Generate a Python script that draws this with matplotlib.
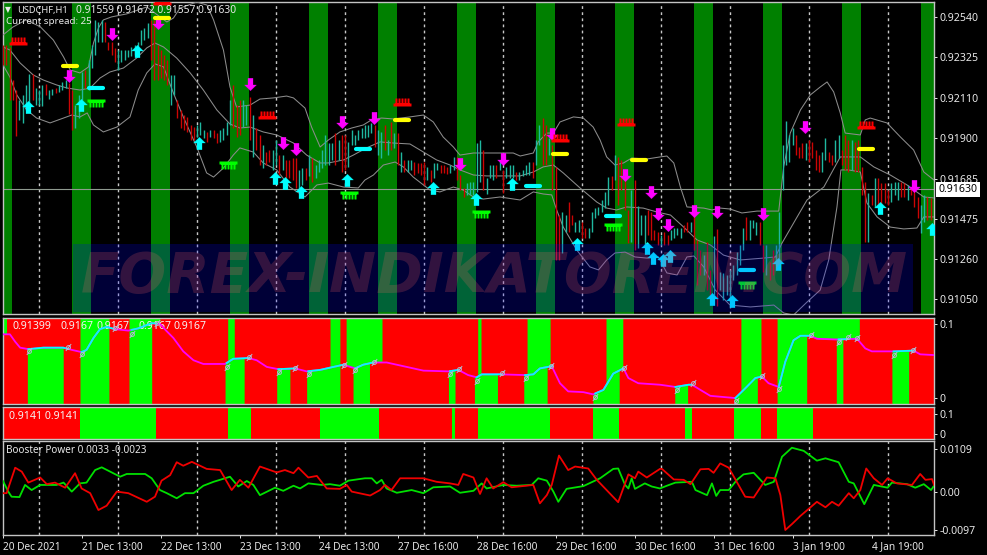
import numpy as np
import matplotlib
matplotlib.use("Agg")
import matplotlib.pyplot as plt
from matplotlib.path import Path
from matplotlib.markers import MarkerStyle
from matplotlib.patches import Rectangle

plt.rcParams['font.family'] = ['Noto Sans', 'DejaVu Sans']

W, H = 987, 555
N_BARS = 283
FS = 7.6
FS_TEXT = 7.0

# ---------- prices, in 1e-5 units ----------
highs = [92391,92391,92380,92204,92151,92098,92125,92178,92236,92236,
92162,92151,92178,92183,92151,92157,92162,92178,92194,92204,
92188,92151,92071,92125,92247,92258,92311,92391,92524,92513,
92524,92513,92407,92407,92375,92364,92364,92364,92364,92380,
92391,92407,92470,92481,92508,92524,92524,92391,92364,92337,
92311,92231,92231,92098,92045,92018,92008,91965,91954,91965,
91981,91938,91928,91938,91938,91922,91938,91949,91981,92098,
92178,92071,92098,92098,92071,92114,92018,91949,91912,91859,
91821,91832,91832,91885,91805,91805,91779,91779,91789,91789,
91726,91736,91736,91805,91789,91752,91779,91832,91912,91869,
91869,91922,91885,91912,91912,91875,91938,91912,91938,91949,
91965,91965,91976,91965,91938,91928,91965,91885,91981,91922,
91922,91821,91779,91779,91779,91768,91763,91763,91768,91742,
91726,91763,91763,91752,91752,91742,91752,91795,91795,91699,
91630,91656,91662,91662,91869,91885,91832,91683,91752,91752,
91752,91779,91726,91742,91752,91752,91715,91715,91726,91752,
91768,91768,91885,91965,92002,91965,91896,91859,91742,91486,
91502,91486,91555,91486,91449,91460,91449,91417,91417,91502,
91523,91529,91566,91609,91688,91694,91805,91795,91779,91672,
91513,91619,91672,91534,91486,91486,91513,91502,91406,91396,
91380,91396,91380,91406,91417,91417,91417,91433,91449,91449,
91486,91353,91300,91273,91343,91194,91374,91412,91183,91178,
91167,91194,91220,91289,91327,91417,91476,91460,91460,91449,
91449,91327,91327,91236,91300,91327,91502,91859,91986,91912,
91949,91912,91848,91869,91869,91885,91875,91832,91805,91821,
91896,91821,91805,91885,91912,91832,91912,91885,91885,91875,
91885,91742,91662,91603,91593,91683,91683,91656,91656,91619,
91656,91662,91662,91662,91656,91646,91635,91619,91582,91539,
91593,91582,91577]
lows = [92284,92284,92098,92098,91906,91992,91976,92045,92034,92098,
92071,92071,92066,92125,92103,92125,92135,92141,92151,92162,
92024,91938,91949,92002,92098,92162,92151,92268,92337,92407,
92407,92407,92364,92337,92300,92258,92300,92311,92327,92332,
92337,92353,92391,92417,92428,92311,92204,92204,92215,92204,
92178,92071,92125,92002,91949,91938,91928,91885,91885,91901,
91912,91896,91875,91901,91896,91869,91875,91885,91912,91965,
91949,91901,91912,91954,91965,91885,91795,91832,91752,91736,
91752,91768,91726,91752,91699,91726,91683,91683,91672,91630,
91619,91646,91672,91694,91662,91683,91715,91736,91752,91752,
91779,91752,91779,91715,91726,91742,91859,91859,91885,91896,
91896,91901,91922,91848,91805,91789,91832,91805,91832,91843,
91752,91715,91715,91715,91726,91699,91710,91699,91646,91672,
91662,91683,91726,91710,91710,91704,91710,91726,91672,91619,
91582,91593,91593,91593,91609,91662,91619,91598,91683,91672,
91683,91726,91603,91683,91683,91683,91672,91672,91694,91699,
91699,91683,91752,91859,91752,91752,91805,91619,91247,91247,
91284,91396,91396,91433,91396,91396,91364,91364,91364,91396,
91470,91486,91502,91523,91539,91619,91672,91539,91619,91513,
91337,91343,91300,91311,91380,91327,91380,91353,91353,91327,
91327,91327,91327,91353,91364,91380,91364,91396,91396,91396,
91300,91114,91167,91167,91087,91061,91061,91002,91087,91034,
91061,91034,91140,91167,91220,91300,91353,91353,91417,91380,
91327,91183,91167,91140,91167,91220,91247,91619,91752,91768,
91859,91805,91789,91789,91779,91768,91789,91726,91715,91715,
91779,91768,91752,91768,91789,91752,91726,91715,91726,91715,
91715,91593,91343,91343,91539,91529,91539,91539,91550,91539,
91555,91593,91566,91582,91582,91566,91593,91529,91470,91390,
91449,91460,91460]
directions = ("dddddttttd" "tttdttdttt" "ddtttdtttt" "tddddttttt" "tttttddddd"
 "dttddddddt" "ttdtddtttt" "dddttdtddt" "ddttdtdddd" "ttdtdttttt"
 "tdtddttttt" "tttdttdtdt" "dtdttddddt" "dttdddttdd" "dtttttdttt"
 "dtdtttdttt" "tdttddtddd" "ttddttddtt" "tttttdtddd" "dtdtttdddd"
 "tddttttddt" "dddtddtdtt" "ttttttdttt" "ddtddttttt" "tdddtddddt"
 "tddttdddtd" "dddtdtdddd" "tttddtdddt" "tdd")

# ---------- Bollinger bands ----------
upper_bars = [0,3,7,11.3,15.3,18.4,20.4,23.4,26,27.5,29,30.5,33,37.6,43.7,49.8,51.8,53.8,58.9,62,64,67,69,71,75.1,78.1,82.2,86.2,88.3,91.8,93.8,96.4,98.9,102.4,106,109.5,112,115.1,118.7,123.7,127.8,130.8,133.8,136.9,138.9,143,148,155.1,157.2,161.2,162.7,165.3,167.3,169.3,173.4,176.4,179.4,181.5,183.5,186,188.6,191.1,195.7,199.7,201.8,203.9,205.9,207.9,213,215.5,218,221,224.6,229.2,235.8,237.3,239.3,242.4,245.4,248.4,250.5,252.5,254.5,256,260.6,262.1,263.6,268.7,272.8,276.8,279.9,283]
upper_vals = [92444,92486,92524,92488,92417,92327,92258,92242,92274,92401,92481,92524,92540,92556,92593,92513,92534,92587,92619,92603,92524,92364,92167,92061,92071,92103,92109,92119,92109,92055,91954,91848,91885,91928,91949,91965,91992,92002,91997,92008,92018,91981,91901,91848,91805,91816,91816,91816,91800,91816,91875,91922,91922,91981,92008,92002,91954,91885,91795,91752,91763,91789,91784,91795,91800,91763,91635,91529,91523,91513,91523,91518,91497,91507,91507,91742,91922,92045,92125,92167,92194,92141,92029,91922,91912,91992,92002,91976,91901,91832,91715,91672]
middle_bars = [0,2.1,5.2,9.2,12.3,16.3,19.4,23.4,26.5,29.5,32.5,36.6,40.6,43.7,46.2,48.8,52.8,56.9,60.9,65,69,72,75.1,79.1,83.2,88.3,92.3,96.4,98.9,103.5,106.5,110.5,114.6,118.7,123.7,127.8,131.8,135.9,138.9,143,147,152.1,157.2,161.2,164.2,167.3,170.3,175.4,180.5,183.5,186.5,189.6,194.6,198.8,202.9,206.9,211,215,219,224.1,231.2,234.8,236.8,241.4,244.4,249.5,254.5,260.6,264.7,269.7,274.8,279.9,283]
middle_vals = [92380,92364,92295,92231,92204,92178,92162,92151,92162,92215,92247,92268,92321,92375,92401,92380,92321,92242,92151,92045,91970,91949,91954,91928,91912,91869,91805,91763,91763,91779,91805,91843,91875,91869,91864,91821,91779,91752,91726,91699,91694,91694,91694,91715,91742,91752,91710,91630,91555,91523,91513,91529,91523,91502,91486,91422,91353,91327,91273,91247,91257,91263,91337,91476,91566,91635,91795,91795,91742,91699,91646,91582,91577]
lower_bars = [0,2.1,4.2,7.2,10.2,14.3,18.4,20.9,23.4,25.6,27.5,30.5,34.6,38.6,41.1,43.7,46.2,48.8,51.8,54.8,58.9,61.9,64,67,70,72,76.1,79.1,83.2,87.2,91.8,95.4,98.9,103.5,108,110,112.6,115.6,119.2,121.7,124.7,129.8,132.8,136.9,139.9,143,146,151.1,157.2,161.2,164.2,166.8,168.3,170.3,174.4,178.4,181,183.5,186,189.1,192.1,195.7,199.2,201.8,204.9,207.9,210,213,216.5,221,227.2,234.3,237.3,240.3,244.4,248.4,251,253.5,254.7,257,260.6,262.6,265.7,269.7,273.8,277.8,279.9,283]
lower_vals = [92284,92220,92125,92045,92002,91976,92002,92018,92008,92029,91965,91928,91954,92008,92151,92242,92290,92274,92135,92008,91848,91710,91688,91736,91805,91843,91821,91763,91726,91635,91582,91646,91656,91635,91630,91672,91699,91752,91768,91742,91688,91619,91609,91635,91619,91582,91571,91582,91566,91609,91598,91593,91513,91422,91300,91210,91194,91247,91284,91289,91263,91257,91263,91178,91167,91263,91268,91210,91087,91007,90997,91007,90965,90954,91023,91087,91247,91529,91726,91726,91715,91550,91476,91422,91412,91417,91476,91476]

# ---------- signals on the price chart ----------
sell_bars = [20.1,33.1,47.1,75.1,85.1,89.1,103,112.8,138.9,152,166.9,189,197,199.1,202.1,210,217,231,243.8,276.9]
sell_vals = [92226,92449,92508,92183,91869,91837,91981,92002,91757,91784,91917,91699,91609,91492,91433,91507,91502,91492,91954,91640]
buy_bars = [7.6,23.7,40.7,59.6,82.7,85.7,90.6,104.6,130.7,143.8,154.7,174.5,195.7,197.6,200.6,202.7,215.5,221.6,235.6,266.6,282.4]
buy_vals = [92061,92071,92359,91869,91683,91656,91609,91672,91630,91571,91651,91332,91311,91257,91247,91268,91039,91029,91225,91523,91412]
yellow_bars = [20.4,48.3,121.3,169.3,193.3,262.3]
yellow_vals = [92279,92534,91992,91811,91779,91837]
cyan_dash_bars = [28.3,109.4,161.1,185.4,226.1]
cyan_dash_vals = [92162,91837,91640,91481,91194]
red_comb_bars = [4.6,48.3,80.2,121.3,169.3,189.4,262.3]
red_comb_vals = [92401,92614,92008,92077,91885,91970,91954]
green_comb_bars = [28.3,68.4,105.2,145.3,185.4,226.1]
green_comb_vals = [92093,91763,91603,91502,91433,91124]

session_bands = [(0,2.7),(21,26.7),(45,50.8),(69,74.8),(93,98.8),(114,119.8),(138,143.8),(162,167.8),(186,191.8),(210,215.8),(231,236.8),(255,260.8),(279,283)]
day_lines = [10.9,35,59,83,104,128,152,176,200,221,245,269]

# ---------- axis labels ----------
price_tick_pos = [92541,92326,92110,91895,91680,91465,91250,91037]
price_tick_labels = ["0.92540","0.92325","0.92110","0.91900","0.91685","0.91475","0.91260","0.91050"]
last_price_pos = 91622
last_price_label = "0.91630"
time_ticks = [0,24,48,72,96,120,144,168,192,216,240,264]
time_labels = ["20 Dec 2021","21 Dec 13:00","22 Dec 13:00","23 Dec 13:00","24 Dec 13:00","27 Dec 16:00","28 Dec 16:00","29 Dec 16:00","30 Dec 16:00","31 Dec 16:00","3 Jan 19:00","4 Jan 19:00"]

# ---------- indicator 1 ----------
ind1_bars = [0,2.1,3.7,5.2,7.7,12.3,18.3,20.9,23.9,25.4,27.5,29.5,31.5,34,38.1,41.1,45.2,47.7,49.8,51.8,54.8,57.9,60.9,67.5,70,74.6,77.1,80.2,83.7,88.8,92.3,96.4,99.4,103.5,107,109.5,112.6,116.6,120.7,127.8,135.4,138.4,141.4,144,145.5,151.1,158.7,161.2,163.2,166.8,169.3,171.8,176.4,179.4,182.5,185.5,188.6,190.1,193.1,199.7,204.4,208.4,209.4,212,215,222.6,225.6,228.7,230.7,232.7,235.8,237.8,240.3,242.4,245.4,247.4,253.5,259.6,262.1,264.1,270.7,276.8,278.8,283]
ind1_vals = [.086,.086,.076,.068,.066,.068,.068,.065,.062,.065,.081,.093,.096,.093,.091,.094,.101,.100,.090,.081,.063,.051,.046,.046,.053,.054,.051,.042,.039,.040,.036,.038,.041,.045,.040,.045,.048,.048,.044,.037,.036,.038,.031,.028,.032,.032,.031,.032,.040,.043,.020,.009,.008,.005,.011,.033,.040,.027,.020,.018,.015,.018,.018,.011,.003,.000,.013,.027,.029,.020,.015,.049,.078,.084,.084,.080,.079,.080,.067,.063,.063,.064,.059,.058]
ind1_rising = [(7.7,19.9),(23.9,33.5),(39.1,46.7),(68,74.9),(83.7,88.8),(92.8,103.5),(107,112.6),(135.9,138.4),(144,151.6),(158.7,166.8),(180,188.6),(204.4,209.4),(222.6,230.7),(235.8,245.4),(254,256.8),(270.7,276.8)]
ind1_lower_green = [(7.4,18.4),(23.4,32.3),(38.3,45.2),(67.5,73.3),(83.2,87.2),(92.3,102.4),(106.4,111.4),(135.4,137.4),(143.3,150.3),(158.3,165.4),(179.3,187.3),(204.2,208.2),(222.3,229.3),(235.3,244.3),(253.3,255.3),(270.2,275.3)]
ind1_upper_green = [(0,1.3),(23.4,32.3),(38.3,47.7),(68.3,70.3),(99.4,102.4),(104.3,115.3),(144.3,145.3),(159.3,166.3),(183.3,188.4),(224.3,230.4),(235.3,260.3)]
sig_bars = [8,19.9,24.1,33.9,39.1,46.7,68,74.8,84,88.8,93,103.7,107,112.8,135.9,138.7,144,151.7,159,166.7,180,188.8,205,209.7,222.9,230.8,236,245.6,254,256.8,259.6,270.9,276.6]
sig_vals = [.063,.069,.059,.095,.086,.101,.042,.056,.035,.041,.032,.045,.038,.049,.032,.039,.023,.034,.027,.043,.002,.040,.011,.020,-.004,.030,.012,.085,.075,.083,.081,.058,.065]

# ---------- indicator 2 ----------
ind2_green = [(0,0.3),(23.4,46.4),(68.3,75.4),(96.4,114.3),(136.4,137.4),(144.3,166.3),(179.3,187.3),(207.3,209.3),(222.3,230.4),(235.3,246.3)]

# ---------- Booster Power, in 1e-4 units ----------
green_bars = [0,1.6,2.6,5,6.7,8.7,11.3,16.3,18.4,20.9,23.4,25.4,28,30,33.5,35.6,37.6,43.2,45.2,47.7,49.8,52.8,55.3,57.9,60.9,64,69,71.5,74.1,76.1,78.1,82.7,85.2,88.3,90.3,92.8,96.9,99.4,102.4,105,110,112.1,113.6,115.1,116.6,119.7,124.2,127.8,130.8,135.9,138.9,143,145.5,147,152.1,156.1,160.7,162.7,165.3,167.3,168.8,171.3,176.4,181.5,185.5,187,189.1,190.1,191.1,192.1,195.1,197.2,199.7,201.8,204.4,209.4,210.5,214,215.5,216.8,218,220.6,223.1,225.1,228.2,231.7,234.3,236.8,239.8,243.4,247.4,250,254,257.1,258.6,261.8,264.7,268.9,270.2,274.8,277.3,279.9,282.1,283]
green_vals = [28,1,-12,-13,18,5,18,18,24,1,22,24,56,63,48,39,46,46,35,5,-3,-16,-3,-3,16,26,39,14,28,18,-8,11,3,16,9,22,18,20,16,29,35,35,22,31,9,-2,5,-3,12,14,-2,3,22,9,18,16,18,35,29,1,-25,8,15,35,59,60,18,9,35,8,22,14,9,16,24,26,5,-8,22,-10,5,5,31,45,49,18,26,90,113,105,80,86,76,26,22,-31,18,11,24,20,11,20,5,16]
red_bars = [0,1.1,3.7,5.7,7.7,11.3,13.3,15.8,18.9,21.9,23.9,26.5,29,31.5,34.6,38.1,43.7,46.2,48.2,50.8,52.8,54.8,57.4,61.9,66,69.5,72,74.6,78.1,83.2,85.7,88.3,89.8,92.8,95.4,98.4,102.4,104.5,106,111.6,114.6,116.1,118.1,120.7,127.8,131.8,135.9,138.4,139.9,143,145,147,149,152.1,154.6,161.2,163.2,165.3,166.8,169,171.8,173.9,177.9,180.5,187,190.1,192.1,193.1,195.7,199.7,200.3,203.9,206.9,209,212,214.5,216,218,220.6,225.6,228.2,232.2,234.8,236.3,237.8,239.8,242.4,247.4,250,252,254,257.1,258.6,260.6,262.4,264.7,267.2,268.9,271.7,276.3,278.8,280.4,282.4,283]
red_vals = [-3,-3,62,52,24,37,20,24,11,48,9,-3,-46,-35,1,-3,-25,-12,29,43,76,67,77,59,56,5,31,11,65,50,56,48,62,37,41,9,8,18,1,-9,5,18,5,35,35,26,22,18,46,37,-5,35,9,25,12,18,-29,-8,18,93,56,65,60,31,-26,45,35,52,37,59,59,32,31,20,58,59,49,73,62,-12,-14,37,35,-8,-97,-82,-61,-25,-39,-25,-35,-3,-16,5,60,35,18,35,22,18,46,31,33,18]


def panel(top, bottom, left=3, right=934):
    ax = fig.add_axes([left / W, 1 - bottom / H, (right - left) / W, (bottom - top) / H])
    ax.set_facecolor('black')
    ax.set_xlim(0, N_BARS)
    for s in ax.spines.values():
        s.set_color('#c4c4c4')
        s.set_linewidth(1.0)
    ax.yaxis.tick_right()
    ax.tick_params(axis='y', colors='#e8e8e8', labelsize=FS, length=2.5, width=0.7, pad=1.5)
    ax.set_xticks([])
    return ax


def green_red(ax, spans, y0, y1):
    ax.axhspan(y0, y1, color='#ff0000', lw=0, zorder=1)
    for a, b in spans:
        ax.fill_between([a, b], y0, y1, color='#00ff00', lw=0, zorder=1.1)


def marker_arrow(up=True):
    pts = [(0, .5), (.47, .04), (.2, .04), (.2, -.5), (-.2, -.5), (-.2, .04), (-.47, .04), (0, .5)]
    if not up:
        pts = [(x, -y) for x, y in pts]
    return Path(pts, closed=True)


def marker_comb(teeth_up=True):
    sgn = 1 if teeth_up else -1
    parts = [Path([(-.5, -.1 * sgn), (.5, -.1 * sgn), (.5, .06 * sgn), (-.5, .06 * sgn), (-.5, -.1 * sgn)], closed=True)]
    for x in (-.36, -.18, 0, .18, .36):
        parts.append(Path([(x - .045, 0), (x + .045, 0), (x + .045, .32 * sgn), (x - .045, .32 * sgn), (x - .045, 0)], closed=True))
    return Path.make_compound_path(*parts)


fig = plt.figure(figsize=((W + .01) / 100, (H + .01) / 100), dpi=100, facecolor='black')

# ---------- main panel ----------
ax = panel(2.5, 314)
top_p, bot_p = 92630 - 2.5 * 5.32, 92630 - 314 * 5.32
ax.set_ylim(bot_p, top_p)
for a, b in session_bands:
    ax.axvspan(a, b, color='#008000', lw=0, zorder=1)
ax.vlines(day_lines, bot_p, top_p, color='#c8c8c8', lw=1.0, linestyles=(0, (2, 2.4)), zorder=2)
ax.axhline(last_price_pos, color='#8f9a8f', lw=0.8, zorder=2.5)

for bx, by in ((upper_bars, upper_vals), (middle_bars, middle_vals), (lower_bars, lower_vals)):
    ax.plot(bx, by, color='#8c8c8c', lw=0.75, zorder=3)

bar_index = np.arange(N_BARS)
is_up = np.array([c == 't' for c in directions])
H_arr, L_arr = np.array(highs, float), np.array(lows, float)
ax.vlines(bar_index[~is_up], L_arr[~is_up], H_arr[~is_up], color='#cc0505', lw=1.0, zorder=4)
ax.vlines(bar_index[is_up], L_arr[is_up], H_arr[is_up], color='#1fb8a0', lw=1.0, zorder=4)

ax.plot(sell_bars, sell_vals, ls='', marker=marker_arrow(False), ms=9, mfc='#ff00ff', mec='#ff00ff', mew=0.2, zorder=5)
ax.plot(buy_bars, buy_vals, ls='', marker=marker_arrow(True), ms=9, mfc='#00ffff', mec='#00ffff', mew=0.2, zorder=5)
ax.plot(yellow_bars, yellow_vals, ls='', marker=MarkerStyle('_', capstyle='round'), ms=9.5, mec='#ffff00', mew=3, zorder=5)
ax.plot(cyan_dash_bars, cyan_dash_vals, ls='', marker=MarkerStyle('_', capstyle='round'), ms=9.5, mec='#00ffff', mew=3, zorder=5)
ax.plot(red_comb_bars, red_comb_vals, ls='', marker=marker_comb(True), ms=12.5, mfc='#ff0000', mec='none', zorder=5)
ax.plot(green_comb_bars, green_comb_vals, ls='', marker=marker_comb(False), ms=12.5, mfc='#00ff00', mec='none', zorder=5)

ax.set_yticks(price_tick_pos)
ax.set_yticklabels(price_tick_labels)

# watermark over everything in the price panel
ax.add_patch(Rectangle((21.3, 90970), 255.3, 362, facecolor='#0000ff', alpha=0.22, lw=0, zorder=8))
ax.text(149.5, 91156, "FOREX-INDIKATOREN.COM", color='#ff6464', alpha=0.2, fontsize=40.5,
        fontweight='bold', style='italic', family=['DejaVu Sans'], ha='center', va='center', zorder=9)

txt = dict(color='#e8e8e8', va='center', ha='left', zorder=10)
fig.text(17 / W, 1 - 10 / H, "USDCHF,H1", fontsize=6.7, **txt)
fig.text(76 / W, 1 - 10 / H, "0.91559 0.91672 0.91557 0.91630", fontsize=7.4, **txt)
fig.text(6 / W, 1 - 21 / H, "Current spread: 25", fontsize=FS_TEXT, **txt)
fig.text(8 / W, 1 - 10 / H, "\u25BC", color='#e8e8e8', fontsize=5.5, va='center', ha='center', family=['DejaVu Sans'])

ax.annotate(last_price_label, xy=(1, last_price_pos), xycoords=('axes fraction', 'data'), xytext=(3.2, 0),
            textcoords='offset points', color='black', fontsize=FS, va='center', ha='left',
            bbox=dict(boxstyle='square,pad=0.2', fc='white', ec='white', lw=0), annotation_clip=False, zorder=11)

# ---------- indicator 1 ----------
ax1 = panel(318, 404)
y0, y1 = -.008, .108
ax1.set_ylim(y0, y1)
line_x = np.array(ind1_bars, float)
line_y = np.array(ind1_vals, float)
grid = np.arange(0, N_BARS + .01, .1)
grid_y = np.interp(grid, line_x, line_y)
ax1.axhspan(y0, y1, color='#ff0000', lw=0, zorder=1)
for a, b in ind1_lower_green:
    m = (grid >= a) & (grid <= b)
    ax1.fill_between(grid[m], y0, grid_y[m], color='#00ff00', lw=0, zorder=1.1)
for a, b in ind1_upper_green:
    m = (grid >= a) & (grid <= b)
    ax1.fill_between(grid[m], grid_y[m], y1, color='#00ff00', lw=0, zorder=1.1)
for x_, s_ in ((12, "0.91399"), (60, "0.9167"), (96, "0.9167"), (138, "0.9167"), (173, "0.9167")):
    ax1.text((x_ - 3) / (934 - 3), 0.907, s_, transform=ax1.transAxes, color='#f4f4f4', fontsize=FS, va='center', ha='left', zorder=2)
ax1.plot(line_x, line_y, color='#ff00ff', lw=1.3, zorder=3)
for a, b in ind1_rising:
    m = (grid >= a) & (grid <= b)
    ax1.plot(grid[m], grid_y[m], color='#00ffff', lw=1.3, zorder=3.1)
slash_circle = Path.make_compound_path(Path.unit_circle(), Path([(-1.4, -1.8), (1.4, 1.8)]))
ax1.plot(sig_bars, sig_vals, ls='', marker=slash_circle, ms=5, mfc='none', mec='#b4b8d0', mew=0.7, zorder=4, clip_on=False)
ax1.set_yticks([0, .1])
ax1.set_yticklabels(["0", "0.1"])

# ---------- indicator 2 ----------
ax2 = panel(407, 439)
y0, y1 = -.0268, .1355
ax2.set_ylim(y0, y1)
green_red(ax2, ind2_green, y0, y1)
ax2.text(6 / 931, 0.69, "0.9141 0.9141", transform=ax2.transAxes, color='#f4f4f4', fontsize=FS, va='center', ha='left', zorder=2)
ax2.set_yticks([0, .1])
ax2.set_yticklabels(["0", "0.1"])

# ---------- Booster Power ----------
ax3 = panel(441.5, 535)
y_top, y_bot = (492 - 441.5) / 3918, (492 - 535) / 3918
ax3.set_ylim(y_bot, y_top)
ax3.vlines(day_lines, y_bot, y_top, color='#c8c8c8', lw=1.0, linestyles=(0, (2, 2.4)), zorder=2)
ax3.plot(green_bars, np.array(green_vals) / 1e4, color='#00e000', lw=1.3, zorder=3)
ax3.plot(red_bars, np.array(red_vals) / 1e4, color='#f00000', lw=1.3, zorder=3.1)
ax3.set_yticks([.0109, 0, -.0097])
ax3.set_yticklabels(["0.0109", "0.00", "-0.0097"])
ax3.text(3 / 931, 0.9, "Booster Power 0.0033 -0.0023", transform=ax3.transAxes, color='#e8e8e8', fontsize=7.2, va='center', ha='left', zorder=5)
ax3.set_xticks(time_ticks)
ax3.set_xticklabels(time_labels, ha='left')
ax3.tick_params(axis='x', colors='#e8e8e8', labelsize=7.3, length=2.5, width=0.7, pad=2.2)

fig.savefig('out.png', dpi=100, facecolor='black')
